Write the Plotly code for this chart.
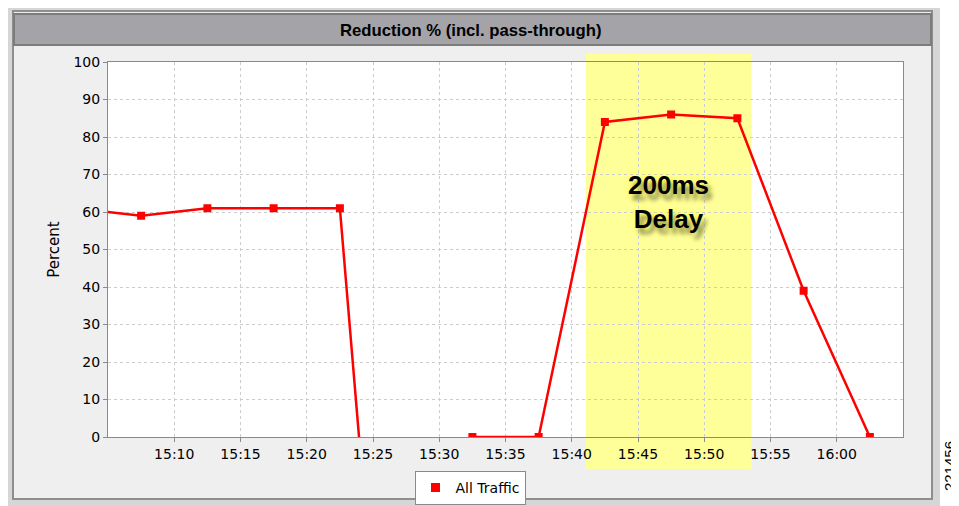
import plotly.graph_objects as go

# ---- data ----
times = ["15:02:30", "15:07:30", "15:12:30", "15:17:30", "15:22:30", "15:27:30",
         "15:32:30", "15:37:30", "15:42:30", "15:47:30", "15:52:30", "15:57:30", "16:02:30"]
reduction = [61, 59, 61, 61, 61, -150, 0, 0, 84, 86, 85, 39, 0]
tick_times = ["15:10", "15:15", "15:20", "15:25", "15:30", "15:35", "15:40",
              "15:45", "15:50", "15:55", "16:00"]
x_range = ["15:05", "16:05"]
delay_window = ["15:41:12", "15:53:42"]
series_name = "All Traffic"
title_text = "Reduction % (incl. pass-through)"
annotation_text = "200ms<br>Delay"
figure_id = "221456"

DAY = "2010-01-01 "
xs = [DAY + t for t in times]

OFF = 8  # page body margin
W, H = 959 - OFF, 506 - OFF
# plot area in page pixels
L, R, T, B = 108, 903, 62, 437
pw, ph = R - L, B - T


def px(x):
    return (x - L) / pw


def py(y):
    return (B - y) / ph


fig = go.Figure()
fig.add_trace(go.Scatter(
    x=xs, y=reduction, mode="lines+markers", name=series_name,
    line=dict(color="#ff0000", width=2.5),
    marker=dict(symbol="square", size=8, color="#ff0000"),
    cliponaxis=True, showlegend=False,
))
# legend entry (square only)
fig.add_trace(go.Scatter(
    x=[None], y=[None], mode="markers", name=series_name,
    marker=dict(symbol="square", size=9, color="#ff0000"),
    showlegend=True,
))

shapes = [
    dict(type="rect", xref="paper", yref="paper", x0=px(0), x1=px(940), y0=py(506), y1=py(0),
         fillcolor="#d6d6d6", line=dict(width=0), layer="below"),
    dict(type="rect", xref="paper", yref="paper", x0=px(13), x1=px(932), y0=py(499), y1=py(11),
         fillcolor="#efefef", line=dict(color="#8e8e8e", width=2), layer="below"),
    dict(type="rect", xref="paper", yref="paper", x0=px(14), x1=px(931), y0=py(45), y1=py(14),
         fillcolor="#a4a4a8", line=dict(color="#7c7c7c", width=2), layer="below"),
    # plot area background
    dict(type="rect", xref="paper", yref="paper", x0=0, x1=1, y0=0, y1=1,
         fillcolor="#ffffff", line=dict(width=0), layer="below"),
    # delay window (extends above and below plot)
    dict(type="rect", xref="paper", yref="paper", x0=px(586), x1=px(751.5), y0=py(469), y1=py(54),
         fillcolor="#ffff99", line=dict(width=0), layer="below"),
]

annotations = [
    dict(text="<b>" + title_text + "</b>", xref="paper", yref="paper", x=px(470), y=py(30),
         showarrow=False, font=dict(family="Liberation Sans", size=16.7, color="#000000"),
         xanchor="center", yanchor="middle"),
    dict(text="<b>" + annotation_text + "</b>", xref="paper", yref="y", x=px(668), y=(B - 202) / 3.75,
         showarrow=False, align="center", xanchor="center", yanchor="middle",
         font=dict(family="Liberation Sans", size=26, color="#000000",
                   shadow="4px 6px 4px #8e8e50, 0px 0px 8px #ffff30")),
    dict(text=figure_id, xref="paper", yref="paper", x=px(950), y=py(466), textangle=-90,
         showarrow=False, font=dict(family="Liberation Sans", size=15, color="#000000"),
         xanchor="center", yanchor="middle"),
]

fig.update_layout(
    width=W, height=H,
    margin=dict(l=L - OFF, r=W - (R - OFF), t=T - OFF, b=H - (B - OFF), pad=0, autoexpand=False),
    paper_bgcolor="#ffffff",
    plot_bgcolor="#ffffff",
    shapes=shapes,
    annotations=annotations,
    showlegend=True,
    legend=dict(orientation="h", x=px(470), y=py(471), xanchor="center", yanchor="top",
                bgcolor="#ffffff", bordercolor="#8a8a8a", borderwidth=1,
                font=dict(family="DejaVu Sans", size=14, color="#000000"),
                itemwidth=30, tracegroupgap=0),
    font=dict(family="DejaVu Sans", size=14, color="#000000"),
    hovermode=False,
)

grid = dict(showgrid=True, gridcolor="#cccccc", griddash="3px,3px", gridwidth=1,
            ticks="outside", ticklen=4, tickcolor="#8a8a8a",
            showline=True, linecolor="#8a8a8a", linewidth=1, mirror=True,
            tickfont=dict(family="DejaVu Sans", size=14, color="#000000"),
            zeroline=False, automargin=False)

fig.update_xaxes(
    type="date",
    range=[DAY + x_range[0], DAY + x_range[1]],
    tickvals=[DAY + t for t in tick_times],
    ticktext=tick_times,
    **grid,
)
fig.update_yaxes(
    range=[0, 100],
    tickvals=list(range(0, 101, 10)),
    title=dict(text="Percent", font=dict(family="DejaVu Sans", size=15, color="#000000"), standoff=10),
    **grid,
)

fig.write_html("out.html")
